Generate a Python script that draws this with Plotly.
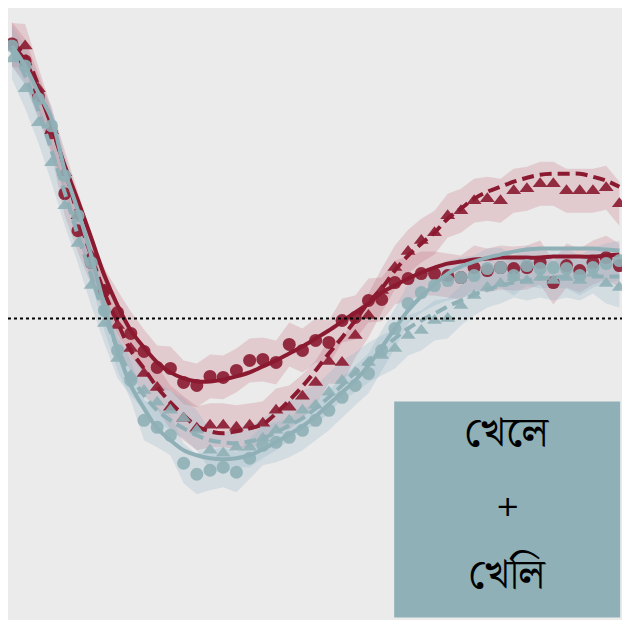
import plotly.graph_objects as go

# положение точек по оси x (индексы)
x_idx = list(range(47))

# красная сплошная линия + кружки
red_fit = [2.74, 2.58, 2.28, 1.93, 1.53, 1.18, 0.81, 0.43, 0.13, -0.12, -0.29, -0.44, -0.54, -0.60, -0.63, -0.63,
           -0.61, -0.58, -0.54, -0.48, -0.42, -0.35, -0.28, -0.20, -0.12, -0.03, 0.06, 0.15, 0.26, 0.33, 0.40, 0.46,
           0.51, 0.55, 0.57, 0.59, 0.60, 0.61, 0.61, 0.61, 0.61, 0.62, 0.62, 0.62, 0.62, 0.63, 0.64]
red_pts = [2.75, 2.58, 2.23, 1.86, 1.25, 0.88, 0.56, 0.28, 0.06, -0.15, -0.33, -0.49, -0.50, -0.64, -0.67, -0.58,
           -0.59, -0.52, -0.42, -0.41, -0.44, -0.26, -0.32, -0.22, -0.24, -0.02, 0.01, 0.18, 0.19, 0.36, 0.40, 0.45,
           0.45, 0.43, 0.41, 0.51, 0.48, 0.51, 0.50, 0.51, 0.56, 0.36, 0.53, 0.48, 0.56, 0.61, 0.53]

# красная пунктирная линия + треугольники
red2_fit = [2.76, 2.63, 2.33, 1.93, 1.50, 1.03, 0.63, 0.26, -0.04, -0.32, -0.50, -0.69, -0.84, -0.97, -1.08, -1.13,
            -1.15, -1.13, -1.10, -1.06, -0.95, -0.82, -0.68, -0.52, -0.35, -0.19, -0.02, 0.16, 0.30, 0.48, 0.63, 0.75,
            0.86, 1.00, 1.10, 1.20, 1.27, 1.32, 1.37, 1.41, 1.44, 1.45, 1.45, 1.45, 1.42, 1.38, 1.32]
red2_pts = [2.74, 2.73, 2.30, 1.88, 1.46, 1.03, 0.63, 0.28, -0.07, -0.30, -0.55, -0.69, -0.89, -1.00, -1.10, -1.07,
            -1.07, -1.09, -1.07, -1.05, -0.92, -0.89, -0.78, -0.64, -0.43, -0.44, -0.17, 0.03, 0.28, 0.51, 0.67, 0.78,
            0.86, 1.03, 1.08, 1.18, 1.20, 1.18, 1.28, 1.30, 1.35, 1.35, 1.28, 1.28, 1.28, 1.31, 1.15]

# бирюзовая сплошная линия + кружки
teal_fit = [2.73, 2.53, 2.26, 2.00, 1.48, 1.08, 0.63, 0.13, -0.32, -0.67, -0.90, -1.10, -1.22, -1.32, -1.37, -1.40,
            -1.41, -1.40, -1.37, -1.31, -1.24, -1.16, -1.08, -0.98, -0.86, -0.74, -0.62, -0.47, -0.29, -0.10, 0.08,
            0.22, 0.34, 0.45, 0.52, 0.57, 0.61, 0.64, 0.67, 0.69, 0.70, 0.70, 0.70, 0.70, 0.70, 0.69, 0.68]
teal_pts = [2.73, 2.53, 2.20, 1.93, 1.43, 1.03, 0.56, 0.08, -0.32, -0.62, -1.02, -1.09, -1.17, -1.45, -1.56, -1.52,
            -1.49, -1.54, -1.40, -1.27, -1.24, -1.19, -1.12, -1.02, -0.92, -0.79, -0.67, -0.55, -0.32, -0.10, 0.15,
            0.26, 0.33, 0.38, 0.41, 0.43, 0.50, 0.51, 0.43, 0.53, 0.50, 0.51, 0.50, 0.43, 0.51, 0.55, 0.58]

# бирюзовая пунктирная линия + треугольники
teal2_fit = [2.68, 2.43, 2.08, 1.68, 1.26, 0.83, 0.43, 0.03, -0.30, -0.57, -0.77, -0.92, -1.02, -1.10, -1.17, -1.22,
             -1.24, -1.25, -1.23, -1.20, -1.14, -1.07, -1.00, -0.90, -0.79, -0.67, -0.54, -0.42, -0.31, -0.20, -0.10,
             -0.02, 0.05, 0.12, 0.18, 0.24, 0.29, 0.33, 0.36, 0.38, 0.40, 0.41, 0.42, 0.42, 0.42, 0.42, 0.42]
teal2_pts = [2.60, 2.30, 1.96, 1.56, 1.13, 0.75, 0.33, -0.05, -0.40, -0.57, -0.72, -0.84, -0.92, -1.00, -1.12, -1.32,
             -1.35, -1.29, -1.29, -1.20, -1.12, -1.02, -0.92, -0.87, -0.74, -0.62, -0.54, -0.44, -0.37, -0.30, -0.17,
             -0.12, -0.02, 0.00, 0.13, 0.23, 0.31, 0.35, 0.41, 0.38, 0.41, 0.38, 0.41, 0.38, 0.45, 0.35, 0.31]

# полуширина доверительной полосы
band_half = {"red": 0.22, "red2": 0.22, "teal": 0.2, "teal2": 0.2}

box_lines = ["খেলে", "+", "খেলি"]

RED = "#8b1a30"
TEAL = "#8fb0b6"

fig = go.Figure()


def add_band(y, half, color):
    upper = [v + half for v in y]
    lower = [v - half for v in y]
    fig.add_trace(go.Scatter(x=x_idx + x_idx[::-1], y=upper + lower[::-1],
                             fill='toself', fillcolor=color, mode='lines',
                             line=dict(width=0), hoverinfo='skip', showlegend=False))


# полосы
add_band(red_pts, band_half["red"], "rgba(190, 90, 110, 0.22)")
add_band(red2_pts, band_half["red2"], "rgba(190, 90, 110, 0.22)")
add_band(teal_pts, band_half["teal"], "rgba(140, 175, 195, 0.25)")
add_band(teal2_pts, band_half["teal2"], "rgba(140, 175, 195, 0.25)")

# линии и маркеры
series = [
    (red_fit, red_pts, RED, 'solid', 'circle'),
    (red2_fit, red2_pts, RED, 'dash', 'triangle-up'),
    (teal_fit, teal_pts, TEAL, 'solid', 'circle'),
    (teal2_fit, teal2_pts, TEAL, 'dash', 'triangle-up'),
]
for fit, pts, color, dash, symbol in series:
    fig.add_trace(go.Scatter(x=x_idx, y=pts, mode='markers', showlegend=False,
                             marker=dict(color=color, size=13, symbol=symbol, opacity=0.9,
                                         line=dict(width=0))))
    fig.add_trace(go.Scatter(x=x_idx, y=fit, mode='lines', showlegend=False,
                             line=dict(color=color, width=4, dash='12px,6px' if dash == 'dash' else 'solid',
                                       shape='spline')))

# пунктирная линия нуля
fig.add_shape(type='line', xref='paper', x0=0, x1=1, yref='y', y0=0, y1=0,
              line=dict(color='black', width=2, dash='dot'))

# прямоугольник с текстом
fig.add_shape(type='rect', xref='paper', yref='paper', x0=0.629, x1=0.997, y0=0.004, y1=0.357,
              fillcolor=TEAL, line=dict(width=0), layer='above')
for text, yy in zip(box_lines, [0.305, 0.180, 0.072]):
    fig.add_annotation(text=text, xref='paper', yref='paper', x=0.813, y=yy, showarrow=False,
                       xanchor='center', yanchor='middle',
                       font=dict(size=42, color='black',
                                 family="Noto Serif Bengali, Noto Sans Bengali, Lohit Bengali, FreeSerif, sans-serif"))

fig.update_layout(
    width=614, height=612,
    margin=dict(l=0, r=0, t=0, b=0),
    paper_bgcolor='white',
    plot_bgcolor='#ebebeb',
    showlegend=False,
    xaxis=dict(range=[-0.3, 46.2], visible=False, showgrid=False, zeroline=False),
    yaxis=dict(range=[-3.02, 3.11], visible=False, showgrid=False, zeroline=False),
)

fig.write_html("out.html")
